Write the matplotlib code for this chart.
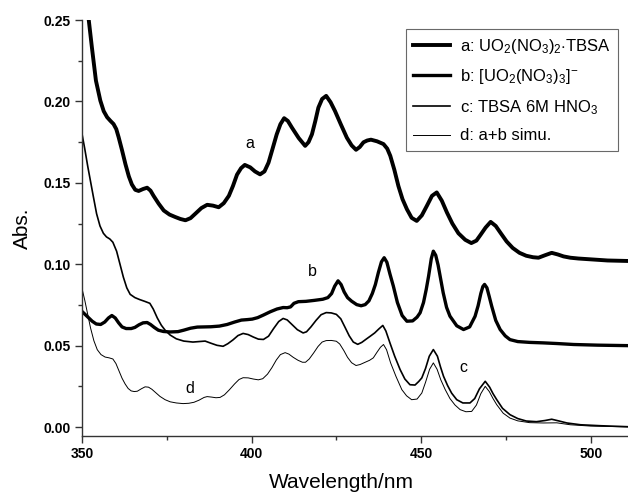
import numpy as np
import matplotlib
matplotlib.use("Agg")
from matplotlib import pyplot as plt
from matplotlib.ticker import MultipleLocator, FormatStrFormatter

plt.rcParams['font.family'] = ['Liberation Sans', 'DejaVu Sans']
plt.rcParams['mathtext.fontset'] = 'custom'
plt.rcParams['mathtext.rm'] = 'Liberation Sans'
plt.rcParams['mathtext.it'] = 'Liberation Sans:italic'

# a: UO2(NO3)2.TBSA
wl_a = [350, 351.0, 352.0, 352.9, 354.1, 355.4, 356.4, 357.4, 358.4, 359.3, 360.1, 360.8, 361.8,
        362.8, 363.8, 364.7, 365.7, 366.7, 368, 369.2, 370.2, 371.1, 372.6, 374.1, 375.8, 377.5,
        379, 380.5, 382, 383.4, 385.2, 386.9, 388.6, 390.3, 391.8, 393.3, 394.5, 395.7, 396.9,
        398.0, 399.6, 401, 402.5, 403.8, 405, 406.2, 407.4, 408.5, 409.6, 410.7, 411.9, 413.9,
        415.8, 416.8, 417.8, 418.8, 419.7, 420.8, 422, 423.3, 424.6, 426.3, 428.1, 429.5, 430.8,
        431.9, 433, 434.1, 435.2, 437, 438.9, 440, 440.9, 442.1, 443.3, 444.5, 445.8, 447.2, 448.7,
        450.2, 451.7, 453.2, 454.6, 456.1, 457.6, 459.2, 461, 463, 464.8, 466.3, 467.5, 469, 470.5,
        472, 473.5, 475.2, 477, 479, 481, 483, 484.6, 486.5, 488.5, 490.3, 492, 494, 496.4, 500,
        505, 511]
abs_a = [0.275, 0.262, 0.2498, 0.2334, 0.2128, 0.2005, 0.194, 0.1903, 0.188, 0.1861, 0.183, 0.178,
         0.170, 0.1615, 0.154, 0.149, 0.1457, 0.145, 0.1462, 0.147, 0.1452, 0.142, 0.1372, 0.133,
         0.1305, 0.129, 0.1278, 0.127, 0.1283, 0.131, 0.1345, 0.1365, 0.136, 0.135, 0.1375, 0.142,
         0.148, 0.155, 0.159, 0.161, 0.1595, 0.157, 0.1552, 0.157, 0.1624, 0.171, 0.1797, 0.186,
         0.1897, 0.188, 0.1839, 0.1775, 0.1727, 0.175, 0.1798, 0.188, 0.1962, 0.2015, 0.2034,
         0.1995, 0.1941, 0.186, 0.1777, 0.173, 0.1703, 0.172, 0.1749, 0.176, 0.1765, 0.1755, 0.1738,
         0.171, 0.1666, 0.158, 0.148, 0.140, 0.1338, 0.1285, 0.1266, 0.130, 0.1359, 0.142, 0.1441,
         0.139, 0.1318, 0.125, 0.119, 0.115, 0.113, 0.1145, 0.118, 0.1225, 0.126, 0.1235, 0.119,
         0.114, 0.110, 0.107, 0.1052, 0.1043, 0.104, 0.1055, 0.107, 0.106, 0.1048, 0.104, 0.1035,
         0.103, 0.1023, 0.102]

# b: [UO2(NO3)3]-
wl_b = [350, 351.5, 353, 354.2, 355.5, 356.7, 357.8, 358.8, 359.8, 360.8, 361.8, 363, 364.5, 365.6,
        366.8, 368, 369.2, 370.2, 371.3, 372.5, 374, 376, 378.3, 380, 382, 384, 386, 388, 390.5,
        392.8, 395, 397, 398.8, 400.2, 401.8, 403.5, 405.5, 407.5, 409.3, 410.5, 411.5, 412.5,
        413.8, 416, 418.5, 421, 422.5, 423.6, 424.5, 425.5, 426.4, 427.3, 428.3, 429.5, 431, 432.3,
        433.5, 434.6, 435.6, 436.5, 437.4, 438.3, 439.1, 439.9, 440.8, 441.8, 443, 444.4, 445.8,
        447.5, 448.8, 449.7, 450.7, 451.5, 452.2, 453, 453.6, 454.3, 455, 455.6, 456.5, 457.5, 458.5,
        460.5, 462.5, 464.3, 465.9, 466.8, 467.6, 468.2, 468.7, 469.4, 470.1, 470.8, 472, 473.3,
        474.8, 476.2, 478.5, 482, 486, 490, 495, 502, 511]
abs_b = [0.071, 0.068, 0.065, 0.0633, 0.063, 0.0645, 0.067, 0.0685, 0.067, 0.064, 0.0615, 0.0605,
         0.0605, 0.0612, 0.0628, 0.064, 0.0642, 0.063, 0.0612, 0.0595, 0.0587, 0.0584, 0.0586,
         0.0595, 0.0607, 0.0614, 0.0615, 0.0616, 0.062, 0.063, 0.0645, 0.0657, 0.066, 0.0663,
         0.0672, 0.0688, 0.0708, 0.0725, 0.0734, 0.0733, 0.0738, 0.076, 0.077, 0.0772, 0.0778,
         0.0785, 0.0795, 0.082, 0.0865, 0.0898, 0.0875, 0.083, 0.0795, 0.0773, 0.0752, 0.0745,
         0.0752, 0.0775, 0.082, 0.0875, 0.095, 0.1015, 0.104, 0.1012, 0.094, 0.0866, 0.0765, 0.0685,
         0.065, 0.0652, 0.0675, 0.0702, 0.0765, 0.0845, 0.0927, 0.1035, 0.108, 0.1055, 0.0995,
         0.0927, 0.0825, 0.0735, 0.0681, 0.0622, 0.0599, 0.0615, 0.068, 0.0745, 0.082, 0.0863,
         0.0876, 0.0855, 0.080, 0.0743, 0.0655, 0.0599, 0.056, 0.0537, 0.0525, 0.052, 0.0517,
         0.0513, 0.0507, 0.0503, 0.0500]

# c: TBSA 6M HNO3
wl_c = [350, 350.8, 351.7, 352.5, 353.3, 354.3, 355.3, 356.3, 357.2, 358.2, 359.1, 360.2, 361.2,
        362.2, 363.2, 364.2, 365.6, 367, 368.5, 370, 371, 372.2, 373.4, 374.5, 376, 377.8, 380,
        382.7, 384.5, 386.3, 388, 389.8, 391.6, 393, 394.5, 396, 397.5, 399, 400.5, 402, 403.5, 405,
        406.5, 408, 409.3, 410.5, 412, 413.5, 415.2, 416.2, 417.5, 419, 420.5, 422, 423.5, 425,
        426.3, 427.5, 428.8, 430, 431.3, 432.5, 433.8, 435, 436.3, 437.5, 438.7, 439.6, 440.8,
        442.2, 443.8, 445.2, 446.7, 448.2, 449.3, 450.2, 451.3, 452.4, 453.6, 454.8, 455.7, 456.6,
        457.8, 459, 460.5, 462.3, 464.4, 465.8, 467.2, 468.9, 470.2, 471.2, 472.3, 474, 476.2,
        478.5, 481, 484, 486.5, 488.5, 490.5, 493, 497, 503, 511]
abs_c = [0.180, 0.171, 0.160, 0.151, 0.142, 0.131, 0.1235, 0.119, 0.1168, 0.1155, 0.1135, 0.108,
         0.100, 0.092, 0.0855, 0.0815, 0.0795, 0.0783, 0.0772, 0.076, 0.0725, 0.067, 0.0625,
         0.0595, 0.0565, 0.0542, 0.0528, 0.0522, 0.0525, 0.0528, 0.0515, 0.0502, 0.0496, 0.0512,
         0.0535, 0.0562, 0.0575, 0.0568, 0.0553, 0.054, 0.0538, 0.0558, 0.0605, 0.0648, 0.0667,
         0.0658, 0.0628, 0.0598, 0.0578, 0.0585, 0.0615, 0.0655, 0.069, 0.0703, 0.0701, 0.0692,
         0.0665, 0.0615, 0.056, 0.0522, 0.0508, 0.052, 0.054, 0.0558, 0.0578, 0.0602, 0.0624,
         0.059, 0.0517, 0.0435, 0.0353, 0.0295, 0.026, 0.0258, 0.028, 0.0302, 0.036, 0.0435,
         0.0476, 0.0435, 0.037, 0.0312, 0.0255, 0.0208, 0.0168, 0.0148, 0.0148, 0.0175, 0.0235,
         0.0281, 0.0245, 0.0205, 0.0168, 0.0115, 0.0076, 0.0052, 0.0037, 0.0033, 0.004, 0.0048,
         0.0038, 0.0025, 0.0014, 0.0008, 0.0002]

# d: a+b simu.
wl_d = [350, 350.8, 351.7, 352.5, 353.5, 354.5, 355.6, 356.8, 358, 359.1, 360, 360.9, 361.8, 362.7,
        363.6, 364.5, 365.4, 366.3, 367.5, 368.6, 369.6, 370.6, 371.8, 373, 374.5, 376, 377.8,
        379.8, 381.5, 383, 384.5, 386, 386.9, 388.2, 389.5, 390.7, 392, 393.5, 395, 396.3, 397.5,
        399, 400.5, 402, 403.3, 404.7, 406, 407.3, 408.5, 409.9, 411, 412.3, 413.7, 415, 415.9,
        417, 418.3, 419.6, 420.8, 422, 423.5, 425, 426, 427.2, 428.3, 429.5, 430.8, 432, 433.5,
        434.8, 435.9, 437, 438, 438.9, 439.8, 441, 442.6, 444.3, 445.7, 447.2, 448.8, 450.2, 451.3,
        452.5, 453.6, 454.7, 455.8, 457.1, 458.5, 460, 461.5, 463.2, 464.9, 466.3, 467.6, 468.9,
        470.1, 471.2, 472.3, 474.2, 476.2, 478.5, 482, 486, 490, 494, 500, 511]
abs_d = [0.085, 0.078, 0.069, 0.061, 0.053, 0.0475, 0.0445, 0.043, 0.0425, 0.0418, 0.039, 0.0345,
         0.030, 0.0265, 0.0237, 0.0222, 0.0218, 0.022, 0.0235, 0.0247, 0.0245, 0.0232, 0.021,
         0.0188, 0.0168, 0.0155, 0.0148, 0.0144, 0.0146, 0.0152, 0.0165, 0.0182, 0.0187, 0.0184,
         0.018, 0.0182, 0.0198, 0.023, 0.0265, 0.0292, 0.0303, 0.0302, 0.0295, 0.029, 0.0297,
         0.0325, 0.0365, 0.0412, 0.0445, 0.0457, 0.0448, 0.0428, 0.041, 0.0398, 0.0398, 0.0418,
         0.0455, 0.0495, 0.0522, 0.0531, 0.0532, 0.0527, 0.051, 0.047, 0.0428, 0.0395, 0.0378,
         0.0384, 0.0398, 0.041, 0.0425, 0.046, 0.049, 0.0507, 0.0475, 0.0394, 0.031, 0.023, 0.0192,
         0.0168, 0.0172, 0.0209, 0.0275, 0.0355, 0.0394, 0.0355, 0.029, 0.023, 0.0175, 0.0135,
         0.0107, 0.0094, 0.0096, 0.0135, 0.0205, 0.025, 0.0218, 0.0175, 0.0137, 0.0085, 0.0055,
         0.0038, 0.0027, 0.0025, 0.0026, 0.0014, 0.0006, 0.0001]

labels = [r'a: UO$_2$(NO$_3$)$_2$$\cdot$TBSA', r'b: [UO$_2$(NO$_3$)$_3$]$^{-}$',
          r'c: TBSA 6M HNO$_3$', 'd: a+b simu.']

fig = plt.figure(figsize=(6.28, 4.94), dpi=100)
ax = fig.add_axes([0.1306, 0.1174, 0.8694, 0.8421])

ax.plot(wl_a, abs_a, color='black', lw=2.8, label=labels[0])
ax.plot(wl_b, abs_b, color='black', lw=2.4, label=labels[1])
ax.plot(wl_c, abs_c, color='black', lw=1.2, label=labels[2])
ax.plot(wl_d, abs_d, color='black', lw=0.7, label=labels[3])

ax.text(399.4, 0.174, 'a', fontsize=11.5, ha='center', va='center')
ax.text(417.8, 0.0957, 'b', fontsize=11.5, ha='center', va='center')
ax.text(462.4, 0.0365, 'c', fontsize=11.5, ha='center', va='center')
ax.text(381.9, 0.0235, 'd', fontsize=11.5, ha='center', va='center')

ax.set_xlim(350, 511)
ax.set_ylim(-0.0055, 0.25)
ax.xaxis.set_major_locator(MultipleLocator(50))
ax.xaxis.set_minor_locator(MultipleLocator(25))
ax.yaxis.set_major_locator(MultipleLocator(0.05))
ax.yaxis.set_minor_locator(MultipleLocator(0.025))
ax.yaxis.set_major_formatter(FormatStrFormatter('%.2f'))

for s in ['top', 'right']:
    ax.spines[s].set_visible(False)
for s in ['left', 'bottom']:
    ax.spines[s].set_color('#333333')
    ax.spines[s].set_linewidth(1.0)

ax.tick_params(which='major', direction='out', length=5, width=1, color='#333333',
               labelsize=10, pad=3)
ax.tick_params(which='minor', direction='out', length=3, width=1, color='#333333')
for t in ax.get_xticklabels() + ax.get_yticklabels():
    t.set_fontweight('bold')

ax.set_xlabel('Wavelength/nm', fontsize=15)
ax.set_ylabel('Abs.', fontsize=15)
ax.xaxis.set_label_coords(0.476, -0.088)
ax.yaxis.set_label_coords(-0.092, 0.50)

leg = ax.legend(loc='upper right', bbox_to_anchor=(0.982, 0.978), borderaxespad=0,
                fontsize=12, frameon=True, fancybox=False, edgecolor='#444444',
                handlelength=2.2, labelspacing=0.7, borderpad=0.45, handletextpad=0.6)
leg.get_frame().set_linewidth(0.8)

fig.savefig('out.png', dpi=100)
